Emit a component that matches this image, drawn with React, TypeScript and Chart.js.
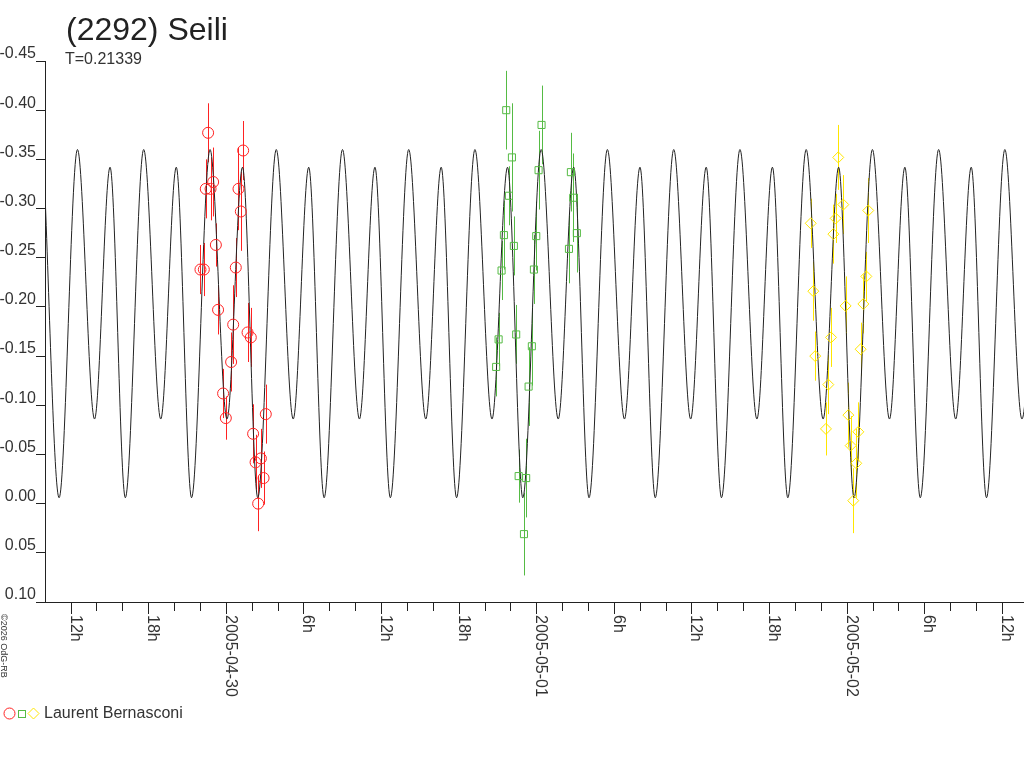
import React, { useEffect, useRef } from 'react';
import { Chart, registerables, Plugin } from 'chart.js';

Chart.register(...registerables);

// x axis is hours counted from 2005-04-30 0h (UTC)
const ORIGIN_UTC = Date.UTC(2005, 3, 30);
const X_MIN = -13.98;
const X_MAX = 61.71;

const TITLE = '(2292) Seili';
const SUBTITLE = 'T=0.21339';
const OBSERVER = 'Laurent Bernasconi';
const COPYRIGHT = '©2026 OdG-RB';

// model curve: its maxima / minima
const curveHours = [
  -14.07,
  -12.89, -11.47, -10.15, -8.95,
  -7.77, -6.35, -5.03, -3.83,
  -2.65, -1.22, 0.09, 1.29,
  2.47, 3.90, 5.21, 6.41,
  7.60, 9.02, 10.33, 11.53,
  12.72, 14.14, 15.46, 16.65,
  17.84, 19.26, 20.58, 21.78,
  22.96, 24.38, 25.70, 26.90,
  28.08, 29.50, 30.82, 32.02,
  33.20, 34.63, 35.94, 37.14,
  38.32, 39.75, 41.06, 42.26,
  43.45, 44.87, 46.18, 47.38,
  48.57, 49.99, 51.31, 52.50,
  53.69, 55.11, 56.43, 57.63,
  58.81, 60.23, 61.55, 62.75,
];
const curveMags = [
  -0.342,
  -0.006, -0.36, -0.086, -0.342,
  -0.006, -0.36, -0.086, -0.342,
  -0.006, -0.36, -0.086, -0.342,
  -0.006, -0.36, -0.086, -0.342,
  -0.006, -0.36, -0.086, -0.342,
  -0.006, -0.36, -0.086, -0.342,
  -0.006, -0.36, -0.086, -0.342,
  -0.006, -0.36, -0.086, -0.342,
  -0.006, -0.36, -0.086, -0.342,
  -0.006, -0.36, -0.086, -0.342,
  -0.006, -0.36, -0.086, -0.342,
  -0.006, -0.36, -0.086, -0.342,
  -0.006, -0.36, -0.086, -0.342,
  -0.006, -0.36, -0.086, -0.342,
  -0.006, -0.36, -0.086, -0.342,
];

// night 1 (red circles)
const redHours = [-1.37, 1.34, -0.98, -1.55, -1.18, 0.98, 1.16, -0.77, -1.96, -1.70, 0.77, -0.60, 0.57, 1.68, 1.93, 0.41, -0.21, 0.00, 3.09, 2.11, 2.71, 2.30, 2.92, 2.50];
const redMags = [-0.377, -0.359, -0.327, -0.320, -0.320, -0.320, -0.297, -0.263, -0.238, -0.238, -0.240, -0.197, -0.182, -0.174, -0.169, -0.144, -0.112, -0.087, -0.091, -0.071, -0.046, -0.042, -0.026, 0.000];
const redErrors = [0.030, 0.030, 0.035, 0.030, 0.032, 0.042, 0.040, 0.022, 0.025, 0.027, 0.030, 0.025, 0.040, 0.030, 0.030, 0.030, 0.025, 0.022, 0.030, 0.030, 0.030, 0.028, 0.027, 0.028];

// night 2 (green squares)
const greenHours = [21.68, 22.12, 24.41, 21.89, 24.18, 26.68, 26.86, 21.50, 24.00, 22.27, 27.14, 26.53, 21.32, 23.82, 21.09, 22.45, 23.66, 20.90, 23.41, 22.64, 23.22, 23.05];
const greenMags = [-0.400, -0.352, -0.385, -0.313, -0.339, -0.337, -0.311, -0.273, -0.272, -0.262, -0.275, -0.259, -0.237, -0.238, -0.167, -0.172, -0.160, -0.139, -0.119, -0.028, -0.026, 0.031];
const greenErrors = [0.040, 0.055, 0.040, 0.030, 0.040, 0.040, 0.045, 0.035, 0.035, 0.030, 0.040, 0.035, 0.030, 0.035, 0.027, 0.030, 0.040, 0.030, 0.040, 0.027, 0.040, 0.042];

// night 3 (yellow diamonds)
const yellowHours = [47.35, 47.74, 47.15, 46.97, 45.22, 49.67, 45.42, 49.52, 49.29, 47.92, 46.79, 45.57, 49.08, 46.58, 48.13, 46.40, 48.90, 48.31, 48.74, 48.51];
const yellowMags = [-0.352, -0.304, -0.290, -0.274, -0.285, -0.298, -0.216, -0.231, -0.203, -0.201, -0.169, -0.150, -0.157, -0.121, -0.090, -0.076, -0.073, -0.059, -0.041, -0.003];
const yellowErrors = [0.033, 0.030, 0.025, 0.030, 0.025, 0.033, 0.030, 0.025, 0.030, 0.030, 0.030, 0.025, 0.027, 0.030, 0.033, 0.027, 0.030, 0.030, 0.035, 0.033];

const FONT = '"Liberation Sans", Arial, sans-serif';
const INK = '#333';
const LINE = '#222';
const RED = '#ff2222';
const GREEN = '#55bb44';
const YELLOW = '#ffe600';

const toPoints = (xs: number[], ys: number[]) => xs.map((x, i) => ({ x, y: ys[i] }));

const errorBars: Plugin = {
  id: 'errorBars',
  beforeDatasetsDraw(chart) {
    const { ctx, chartArea, scales } = chart;
    ctx.save();
    ctx.beginPath();
    ctx.rect(chartArea.left, chartArea.top, chartArea.width, chartArea.height);
    ctx.clip();
    ctx.lineWidth = 1;
    chart.data.datasets.forEach((ds: any) => {
      if (!ds.errors) return;
      ctx.strokeStyle = ds.borderColor;
      ds.data.forEach((p: { x: number; y: number }, i: number) => {
        const x = Math.round(scales.x.getPixelForValue(p.x)) + 0.5;
        ctx.beginPath();
        ctx.moveTo(x, scales.y.getPixelForValue(p.y - ds.errors[i]));
        ctx.lineTo(x, scales.y.getPixelForValue(p.y + ds.errors[i]));
        ctx.stroke();
      });
    });
    ctx.restore();
  },
};

// tick marks (long at 6h, short at 2h) and the rotated time labels
const timeAxis: Plugin = {
  id: 'timeAxis',
  afterDraw(chart) {
    const scale = chart.scales.x;
    const { ctx, chartArea } = chart;
    const y0 = scale.top;
    ctx.save();
    ctx.strokeStyle = LINE;
    ctx.lineWidth = 1;
    ctx.fillStyle = INK;
    ctx.font = `16px ${FONT}`;
    ctx.textAlign = 'left';
    ctx.textBaseline = 'alphabetic';
    scale.ticks.forEach((t) => {
      const px = scale.getPixelForValue(t.value);
      if (px < chartArea.left + 1 || px > chartArea.right) return;
      const major = t.label !== '';
      const x = Math.round(px) + 0.5;
      ctx.beginPath();
      ctx.moveTo(x, y0);
      ctx.lineTo(x, y0 + (major ? 12 : 9));
      ctx.stroke();
      if (major) {
        ctx.save();
        ctx.translate(Math.round(px), y0 + 13);
        ctx.rotate(Math.PI / 2);
        ctx.fillText(String(t.label), 0, 0);
        ctx.restore();
      }
    });
    ctx.restore();
  },
};

const annotations: Plugin = {
  id: 'annotations',
  afterDraw(chart) {
    const { ctx } = chart;
    ctx.save();
    ctx.textAlign = 'left';
    ctx.textBaseline = 'alphabetic';
    ctx.fillStyle = LINE;
    ctx.font = `32px ${FONT}`;
    ctx.fillText(TITLE, 66, 40);
    ctx.fillStyle = INK;
    ctx.font = `16px ${FONT}`;
    ctx.fillText(SUBTITLE, 65, 64);

    // legend line
    ctx.lineWidth = 1;
    ctx.strokeStyle = RED;
    ctx.beginPath();
    ctx.arc(9.5, 713.5, 5.5, 0, Math.PI * 2);
    ctx.stroke();
    ctx.strokeStyle = GREEN;
    ctx.strokeRect(18.5, 710.5, 7, 7);
    ctx.strokeStyle = YELLOW;
    ctx.beginPath();
    ctx.moveTo(28, 713.5);
    ctx.lineTo(33.5, 708);
    ctx.lineTo(39, 713.5);
    ctx.lineTo(33.5, 719);
    ctx.closePath();
    ctx.stroke();
    ctx.fillText(OBSERVER, 44, 718);

    ctx.font = `9px ${FONT}`;
    ctx.translate(0.5, 614);
    ctx.rotate(Math.PI / 2);
    ctx.fillText(COPYRIGHT, 0, 0);
    ctx.restore();
  },
};

const scatterSet = (label: string, xs: number[], ys: number[], errs: number[], color: string, style: string, r: number) => ({
  type: 'scatter' as const,
  label,
  data: toPoints(xs, ys),
  errors: errs,
  borderColor: color,
  pointStyle: style,
  pointRadius: r,
  pointBorderColor: color,
  pointBackgroundColor: 'rgba(0,0,0,0)',
  pointBorderWidth: 1,
  showLine: false,
});

const LightCurve = () => {
  const canvasRef = useRef<HTMLCanvasElement>(null);

  useEffect(() => {
    const ctx = canvasRef.current?.getContext('2d');
    if (!ctx) return;
    const chart = new Chart(ctx, {
      type: 'scatter',
      data: {
        datasets: [
          scatterSet('night 1', redHours, redMags, redErrors, RED, 'circle', 5.5),
          scatterSet('night 2', greenHours, greenMags, greenErrors, GREEN, 'rect', 5),
          scatterSet('night 3', yellowHours, yellowMags, yellowErrors, YELLOW, 'rectRot', 5.5),
          {
            type: 'line',
            label: 'model',
            data: toPoints(curveHours, curveMags),
            borderColor: LINE,
            borderWidth: 1,
            pointRadius: 0,
            fill: false,
            cubicInterpolationMode: 'monotone',
          } as any,
        ],
      },
      options: {
        responsive: false,
        devicePixelRatio: 1,
        animation: false,
        layout: { autoPadding: false, padding: { top: 61, left: 0, right: 0, bottom: 0 } },
        plugins: { legend: { display: false }, tooltip: { enabled: false } },
        scales: {
          x: {
            type: 'linear',
            min: X_MIN,
            max: X_MAX,
            afterFit: (s: any) => { s.height = 166; },
            grid: { display: true, drawOnChartArea: false, drawTicks: false },
            border: { display: true, color: LINE, width: 1 },
            ticks: {
              display: false,
              stepSize: 2,
              autoSkip: false,
              includeBounds: false,
              callback: (value) => {
                const h = Number(value);
                if (Math.abs(h / 6 - Math.round(h / 6)) > 1e-6) return '';
                const hod = ((Math.round(h) % 24) + 24) % 24;
                if (hod === 0) return new Date(ORIGIN_UTC + h * 3600000).toISOString().slice(0, 10);
                return `${hod}h`;
              },
            },
          },
          y: {
            type: 'linear',
            reverse: true,
            min: -0.45,
            max: 0.1,
            afterFit: (s: any) => { s.width = 45; },
            grid: { drawOnChartArea: false, drawTicks: true, tickLength: 9, color: LINE },
            border: { display: true, color: LINE, width: 1 },
            ticks: {
              stepSize: 0.05,
              maxTicksLimit: 20,
              autoSkip: false,
              padding: 0,
              labelOffset: -7,
              color: INK,
              font: { family: FONT, size: 16 },
              callback: (value) => {
                const n = Number(value);
                return (Math.abs(n) < 1e-9 ? 0 : n).toFixed(2);
              },
            },
          },
        },
      },
      plugins: [errorBars, timeAxis, annotations],
    });
    return () => chart.destroy();
  }, []);

  return (
    <div style={{ position: 'absolute', left: 0, top: 0, width: 1024, height: 768, background: '#fff' }}>
      <canvas ref={canvasRef} width={1024} height={768} style={{ display: 'block' }} />
    </div>
  );
};

export default function App() {
  return <LightCurve />;
}
